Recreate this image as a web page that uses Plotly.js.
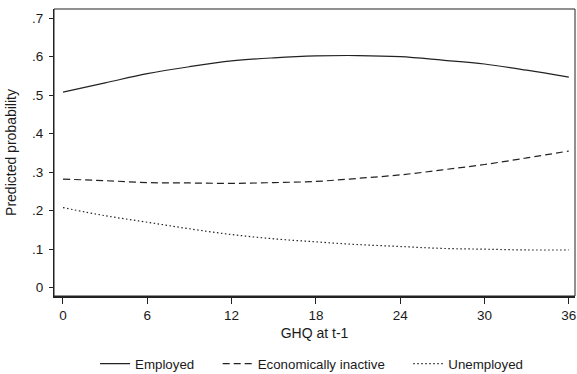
<!DOCTYPE html>
<html>
<head>
<meta charset="utf-8">
<script src="https://cdn.plot.ly/plotly-3.0.1.min.js"></script>
<style>html,body{margin:0;padding:0;background:#fff;}#chart{width:577px;height:374px;}</style>
</head>
<body>
<div id="chart"></div>
<script>
var ghq = [0, 3, 6, 9, 12, 15, 18, 21, 24, 27, 30, 33, 36];
var employed = [0.508, 0.532, 0.556, 0.574, 0.589, 0.597, 0.602, 0.603, 0.600, 0.591, 0.581, 0.565, 0.547];
var inactive = [0.282, 0.278, 0.273, 0.272, 0.271, 0.273, 0.276, 0.284, 0.293, 0.306, 0.320, 0.337, 0.355];
var unemployed = [0.208, 0.187, 0.170, 0.153, 0.138, 0.127, 0.119, 0.112, 0.107, 0.102, 0.100, 0.098, 0.098];
var xTicks = [0, 6, 12, 18, 24, 30, 36];
var yTicks = [0, 0.1, 0.2, 0.3, 0.4, 0.5, 0.6, 0.7];
var yTickText = ['0', '.1', '.2', '.3', '.4', '.5', '.6', '.7'];
var seriesNames = ['Employed', 'Economically inactive', 'Unemployed'];

var lineColor = '#222';
var pad = '\u00a0\u00a0\u00a0\u00a0\u00a0';
function tr(y, name, dash, last) {
  return {x: ghq, y: y, name: last ? name : name + pad, type: 'scatter', mode: 'lines',
    line: {color: lineColor, width: 1.2, dash: dash, shape: 'spline'}};
}
var data = [
  tr(employed, seriesNames[0], 'solid'),
  tr(inactive, seriesNames[1], '7px,4px'),
  tr(unemployed, seriesNames[2], '1.5px,2.5px', true)
];
var fam = 'Liberation Sans, Arial, sans-serif';
var tickFont = {family: fam, size: 13.5, color: '#1a1a1a'};
var titleFont = {family: fam, size: 14, color: '#1a1a1a'};
var layout = {
  width: 577, height: 374,
  margin: {l: 54, r: 2, t: 9, b: 78, autoexpand: false},
  paper_bgcolor: '#fff', plot_bgcolor: '#fff',
  font: tickFont,
  showlegend: true,
  legend: {orientation: 'h', x: 0.54, xanchor: 'center', xref: 'container', yref: 'container',
    y: 0.068, yanchor: 'top',
    font: {family: fam, size: 13.3, color: '#1a1a1a'}, itemwidth: 30, traceorder: 'normal'},
  xaxis: {range: [-0.64, 36.44], tickvals: xTicks, ticks: 'outside', ticklen: 6, tickwidth: 1,
    tickcolor: '#222', showline: true, linecolor: '#222', linewidth: 2, showgrid: false, zeroline: false,
    tickfont: tickFont, ticklabelstandoff: 0, automargin: false,
    title: {text: 'GHQ at t-1', font: titleFont, standoff: 6}},
  yaxis: {range: [-0.0216, 0.7239], tickvals: yTicks, ticktext: yTickText, ticks: 'outside', ticklen: 4,
    tickwidth: 1, tickcolor: '#222', showline: true, linecolor: '#222', linewidth: 1, showgrid: false,
    zeroline: false, tickfont: tickFont, ticklabelstandoff: 3, automargin: false,
    title: {text: 'Predicted probability', font: titleFont, standoff: 12}},
  shapes: [{type: 'rect', xref: 'paper', yref: 'paper', x0: 0, x1: 1, y0: 0, y1: 1,
    line: {color: '#222', width: 1}}]
};
Plotly.newPlot('chart', data, layout, {displayModeBar: false, staticPlot: true});
</script>
</body>
</html>
